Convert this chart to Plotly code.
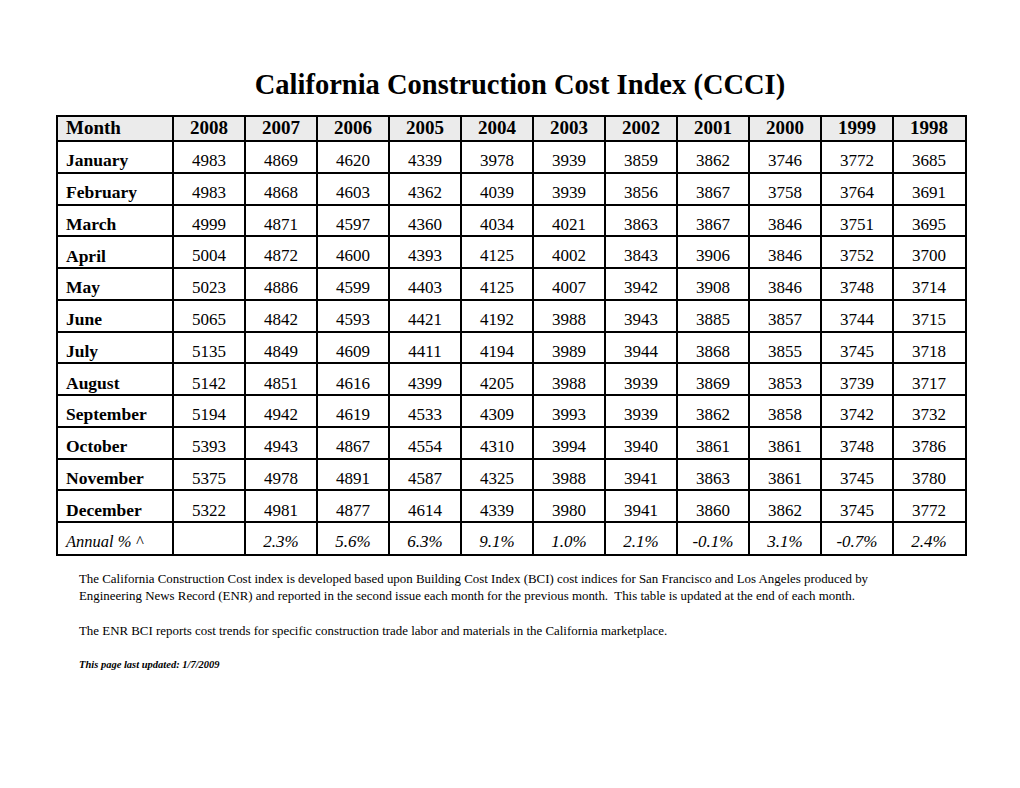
import plotly.graph_objects as go

# CCCI values, one list per month, columns are years 2008 -> 1998
years = ["2008", "2007", "2006", "2005", "2004", "2003", "2002", "2001", "2000", "1999", "1998"]
months = ["January", "February", "March", "April", "May", "June", "July",
          "August", "September", "October", "November", "December"]

jan = [4983, 4869, 4620, 4339, 3978, 3939, 3859, 3862, 3746, 3772, 3685]
feb = [4983, 4868, 4603, 4362, 4039, 3939, 3856, 3867, 3758, 3764, 3691]
mar = [4999, 4871, 4597, 4360, 4034, 4021, 3863, 3867, 3846, 3751, 3695]
apr = [5004, 4872, 4600, 4393, 4125, 4002, 3843, 3906, 3846, 3752, 3700]
may = [5023, 4886, 4599, 4403, 4125, 4007, 3942, 3908, 3846, 3748, 3714]
jun = [5065, 4842, 4593, 4421, 4192, 3988, 3943, 3885, 3857, 3744, 3715]
jul = [5135, 4849, 4609, 4411, 4194, 3989, 3944, 3868, 3855, 3745, 3718]
aug = [5142, 4851, 4616, 4399, 4205, 3988, 3939, 3869, 3853, 3739, 3717]
sep = [5194, 4942, 4619, 4533, 4309, 3993, 3939, 3862, 3858, 3742, 3732]
oct_ = [5393, 4943, 4867, 4554, 4310, 3994, 3940, 3861, 3861, 3748, 3786]
nov = [5375, 4978, 4891, 4587, 4325, 3988, 3941, 3863, 3861, 3745, 3780]
dec = [5322, 4981, 4877, 4614, 4339, 3980, 3941, 3860, 3862, 3745, 3772]
annual_label = "Annual % ^"
annual_pct = ["", "2.3%", "5.6%", "6.3%", "9.1%", "1.0%", "2.1%", "-0.1%", "3.1%", "-0.7%", "2.4%"]

rows = [jan, feb, mar, apr, may, jun, jul, aug, sep, oct_, nov, dec]

# page is offset by the 8px body margin, so the figure is a bit smaller
OFF = 8
W, H = 1020 - OFF * 2, 788 - OFF * 2
SERIF = "Liberation Serif"

def px_x(x):
    return (x - OFF) / W

def px_y(y):
    return 1 - (y - OFF) / H

# table geometry (in "table pixels")
col_w = [115] + [72] * len(years)
head_h = 24
row_h = 31.77
n_body = len(months) + 1

col_edges = [0]
for w in col_w:
    col_edges.append(col_edges[-1] + w)
col_mid = [(col_edges[i] + col_edges[i + 1]) / 2 for i in range(len(col_w))]
row_edges = [0, head_h] + [head_h + row_h * (i + 1) for i in range(n_body)]
body_mid = [(row_edges[i + 1] + row_edges[i + 2]) / 2 + 5 for i in range(n_body)]
tab_w, tab_h = col_edges[-1], row_edges[-1]
pad = 8

fig = go.Figure()

# header
fig.add_trace(go.Scatter(
    x=[pad] + col_mid[1:], y=[head_h / 2] * (len(years) + 1),
    text=["<b>Month</b>"] + ["<b>%s</b>" % y for y in years],
    mode="text", textposition=["middle right"] + ["middle center"] * len(years),
    textfont=dict(family=SERIF, size=19, color="black"),
    hoverinfo="skip", cliponaxis=False,
))

# month names + annual label
fig.add_trace(go.Scatter(
    x=[pad] * len(months), y=body_mid[:len(months)],
    text=["<b>%s</b>" % m for m in months],
    mode="text", textposition="middle right",
    textfont=dict(family=SERIF, size=17.5, color="black"),
    hoverinfo="skip", cliponaxis=False,
))
fig.add_trace(go.Scatter(
    x=[pad], y=[body_mid[-1]], text=["<i>%s</i>" % annual_label],
    mode="text", textposition="middle right",
    textfont=dict(family=SERIF, size=16.5, color="black"),
    hoverinfo="skip", cliponaxis=False,
))

# values
xs, ys, txt = [], [], []
for i, r in enumerate(rows):
    for j, v in enumerate(r):
        xs.append(col_mid[j + 1])
        ys.append(body_mid[i])
        txt.append(str(v))
fig.add_trace(go.Scatter(
    x=xs, y=ys, text=txt, mode="text", textposition="middle center",
    textfont=dict(family=SERIF, size=17, color="black"),
    hoverinfo="skip", cliponaxis=False,
))

# annual % row
fig.add_trace(go.Scatter(
    x=col_mid[1:], y=[body_mid[-1]] * len(years),
    text=["<i>%s</i>" % p if p else "" for p in annual_pct],
    mode="text", textposition="middle center",
    textfont=dict(family=SERIF, size=17, color="black"),
    hoverinfo="skip", cliponaxis=False,
))

# header background
fig.add_shape(type="rect", xref="x", yref="y", x0=0, x1=tab_w, y0=0, y1=head_h,
              fillcolor="#ebebeb", line_width=0, layer="below")

grid = dict(showgrid=True, gridcolor="black", gridwidth=2, zeroline=False,
            showticklabels=False, ticks="", showline=True, mirror=True,
            linecolor="black", linewidth=2)
fig.update_xaxes(range=[0, tab_w], tickvals=col_edges[1:-1],
                 domain=[px_x(58), px_x(965)], **grid)
fig.update_yaxes(range=[tab_h, 0], tickvals=row_edges[1:-1],
                 domain=[px_y(554), px_y(117)], **grid)

notes = [
    ("The California Construction Cost index is developed based upon Building Cost Index (BCI) cost indices for San Francisco and Los Angeles produced by<br>"
     "Engineering News Record (ENR) and reported in the second issue each month for the previous month.  This table is updated at the end of each month.", 587.5, 12.9),
    ("The ENR BCI reports cost trends for specific construction trade labor and materials in the California marketplace.", 631, 12.9),
    ("<b><i>This page last updated: 1/7/2009</i></b>", 664, 10.5),
]
for t, ypx, sz in notes:
    fig.add_annotation(
        text=t, xref="paper", yref="paper", x=px_x(77), y=px_y(ypx),
        xanchor="left", yanchor="middle", align="left", showarrow=False,
        font=dict(family=SERIF, size=sz, color="black"),
    )

fig.update_layout(
    title=dict(text="<b>California Construction Cost Index (CCCI)</b>",
               x=px_x(520), xanchor="center", y=px_y(84), yanchor="middle",
               font=dict(family=SERIF, size=28.5, color="black")),
    width=W, height=H,
    margin=dict(l=0, r=0, t=0, b=0),
    paper_bgcolor="white",
    plot_bgcolor="white",
    showlegend=False,
)

fig.write_html("out.html")
